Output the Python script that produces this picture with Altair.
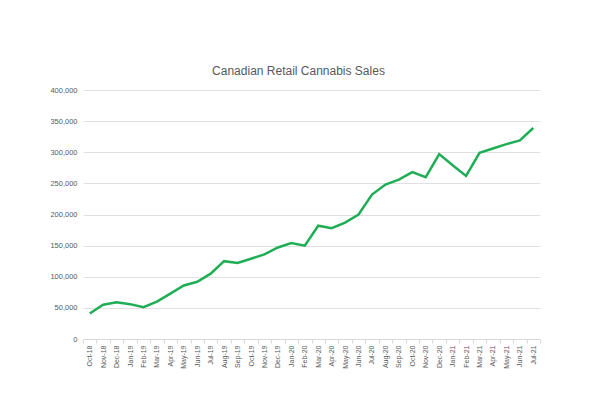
import altair as alt
import pandas as pd

months = ["Oct-18","Nov-18","Dec-18","Jan-19","Feb-19","Mar-19","Apr-19","May-19","Jun-19","Jul-19",
          "Aug-19","Sep-19","Oct-19","Nov-19","Dec-19","Jan-20","Feb-20","Mar-20","Apr-20","May-20",
          "Jun-20","Jul-20","Aug-20","Sep-20","Oct-20","Nov-20","Dec-20","Jan-21","Feb-21","Mar-21",
          "Apr-21","May-21","Jun-21","Jul-21"]
sales = [41000, 55000, 59000, 56000, 51000, 60000, 73000, 86000, 92000, 105000,
         125000, 122000, 129000, 136000, 147000, 154000, 150000, 182000, 178000, 187000,
         200000, 232000, 248000, 256000, 268000, 260000, 297000, 279000, 262000, 299000,
         306000, 313000, 319000, 339000]

df = pd.DataFrame({"Month": months, "Sales": sales})

chart = alt.Chart(df).mark_line(color="#1fae55", strokeWidth=2.5).encode(
    x=alt.X("Month:N", sort=months, title=None,
            scale=alt.Scale(type="band", paddingInner=0, paddingOuter=0),
            axis=alt.Axis(labelAngle=-90, labelFontSize=7, labelColor="#595959",
                          labelFont="Liberation Sans", grid=False, tickBand="extent",
                          domainColor="#d9d9d9", tickColor="#d9d9d9", tickSize=4,
                          labelPadding=2)),
    y=alt.Y("Sales:Q", title=None,
            scale=alt.Scale(domain=[0, 400000]),
            axis=alt.Axis(values=[0,50000,100000,150000,200000,250000,300000,350000,400000],
                          format=",d", labelFontSize=7.5, labelColor="#595959",
                          labelFont="Liberation Sans", domain=False, ticks=False,
                          gridColor="#e0e0e0", labelPadding=6)),
).properties(
    width=457, height=249,
    title=alt.TitleParams("Canadian Retail Cannabis Sales", fontSize=12, font="Liberation Sans",
                          fontWeight="normal", color="#595959", anchor="middle", offset=8, dx=-13),
    autosize=alt.AutoSizeParams(type="none"),
    padding={"left": 75, "top": 82, "right": 50, "bottom": 50},
).configure_view(stroke=None)

chart.save("out.html", embed_options={"renderer": "svg", "actions": False})
